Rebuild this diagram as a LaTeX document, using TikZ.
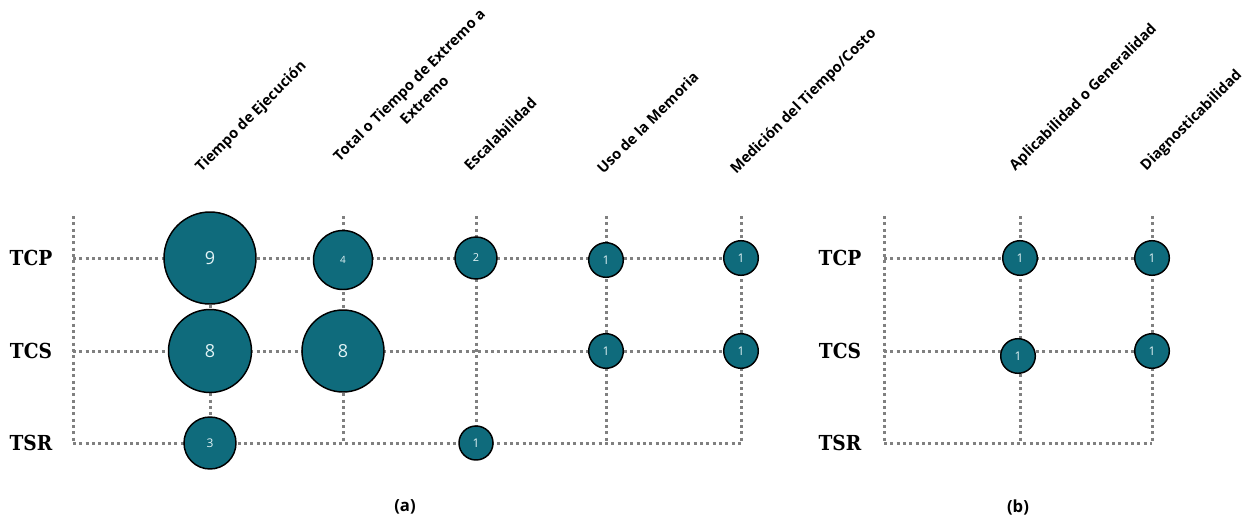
\documentclass[tikz,border=0pt]{standalone}
\usepackage{fontspec}
\setmainfont{Open Sans}
\newfontfamily\rowfont{DejaVu Serif Condensed}
\definecolor{bubfill}{HTML}{0F6B7C}
\definecolor{bubtext}{HTML}{E2F3F5}
\definecolor{gridgray}{HTML}{808080}
\tikzset{
  gridline/.style={draw=gridgray, line width=2.25pt, dash pattern=on 2.25pt off 2.5pt},
  bub/.style={circle, draw=black, line width=1.1pt, fill=bubfill, text=bubtext,
    minimum size=#1*1.5pt, inner sep=0pt},
  num/.style={font=\fontsize{#1}{#1}\selectfont},
  rowlabel/.style={font=\rowfont\bfseries\fontsize{15.5}{18}\selectfont, anchor=center},
  collabel/.style={font=\bfseries\fontsize{11}{12.5}\selectfont, rotate=45, anchor=base west},
  panel/.style={font=\bfseries\fontsize{12.5}{14}\selectfont}
}
\begin{document}
\begin{tikzpicture}[x=0.75pt, y=-0.75pt]
\useasboundingbox (0,0) rectangle (1245,518);

% ---------- panel (a): grid points ----------
\foreach \n/\x in {L/73, A/210, B/343, C/476, D/606, E/741} {
  \coordinate (a\n top) at (\x,216);
  \coordinate (a\n tcp) at (\x,258);
  \coordinate (a\n tcs) at (\x,351);
  \coordinate (a\n tsr) at (\x,443);
}
% vertical guides
\foreach \n in {L,A,B,C,D,E}
  \draw[gridline] (a\n top) -- (a\n tsr);
% horizontal guides
\foreach \r in {tcp,tcs,tsr}
  \draw[gridline] (aL\r) -- (aE\r);

% ---------- panel (b): grid points ----------
\foreach \n/\x in {L/884, A/1020, B/1152} {
  \coordinate (b\n top) at (\x,216);
  \coordinate (b\n tcp) at (\x,258);
  \coordinate (b\n tcs) at (\x,351);
  \coordinate (b\n tsr) at (\x,443);
}
\foreach \n in {L,A,B}
  \draw[gridline] (b\n top) -- (b\n tsr);
\foreach \r in {tcp,tcs,tsr}
  \draw[gridline] (bL\r) -- (bB\r);

% ---------- row labels ----------
\node[rowlabel] (rtcpA) at (31,258) {TCP};
\node[rowlabel] (rtcsA) at (31,351) {TCS};
\node[rowlabel] (rtsrA) at (31,443) {TSR};
\node[rowlabel] (rtcpB) at (840,258) {TCP};
\node[rowlabel] (rtcsB) at (840,351) {TCS};
\node[rowlabel] (rtsrB) at (840,443) {TSR};

% ---------- column labels ----------
\node[collabel] (cA) at (198,176) {Tiempo de Ejecución};
\node[collabel, anchor=west, align=center, font=\bfseries\fontsize{11}{16}\selectfont]
  (cB) at (340,169) {Total o Tiempo de Extremo a\\Extremo};
\node[collabel] (cC) at (467,175) {Escalabilidad};
\node[collabel] (cD) at (600,178) {Uso de la Memoria};
\node[collabel] (cE) at (733,178) {Medición del Tiempo/Costo};
\node[collabel] (cF) at (1012,175) {Aplicabilidad o Generalidad};
\node[collabel] (cG) at (1143,175) {Diagnosticabilidad};

% ---------- bubbles, panel (a) ----------
\node[bub=46, num=13.5]   (a1) at (210,258) {9};
\node[bub=41.5, num=13.5] (a2) at (210,351) {8};
\node[bub=26, num=9]      (a3) at (210,443) {3};
\node[bub=29.5, num=7.5]  (a4) at (343,260) {4};
\node[bub=41, num=13.5]   (a5) at (343,351) {8};
\node[bub=21, num=8.25]   (a6) at (476,258) {2};
\node[bub=17, num=9]      (a7) at (476,443) {1};
\node[bub=17.3, num=9]    (a8) at (606,260) {1};
\node[bub=17.3, num=9]    (a9) at (606,351) {1};
\node[bub=17.3, num=9]    (a10) at (741,258) {1};
\node[bub=17.3, num=9]    (a11) at (741,351) {1};

% ---------- bubbles, panel (b) ----------
\node[bub=17.3, num=9] (b1) at (1020,258) {1};
\node[bub=17.3, num=9] (b2) at (1018,356) {1};
\node[bub=17.3, num=9] (b3) at (1152,258) {1};
\node[bub=17.3, num=9] (b4) at (1152,351) {1};

% ---------- panel captions ----------
\node[panel] (pa) at (405,507) {(a)};
\node[panel] (pb) at (1018,507) {(b)};
\end{tikzpicture}
\end{document}
